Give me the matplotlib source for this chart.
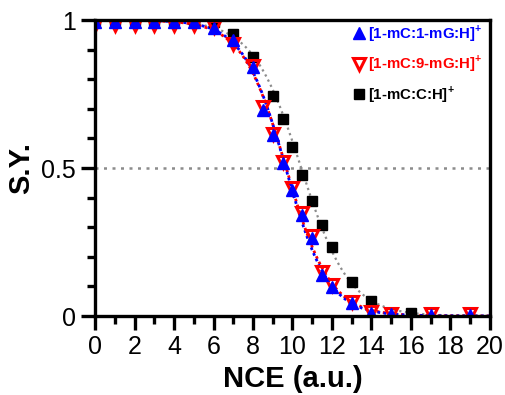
import numpy as np
import matplotlib.pyplot as plt
from matplotlib.ticker import MultipleLocator

plt.rcParams['font.family'] = ['Liberation Sans', 'DejaVu Sans']
plt.rcParams['mathtext.fontset'] = 'custom'
plt.rcParams['mathtext.bf'] = 'Liberation Sans:bold'
plt.rcParams['mathtext.rm'] = 'Liberation Sans'

######## data

nce_g = [0, 1, 2, 3, 4, 5, 6, 7, 8, 8.5, 9, 9.5, 10, 10.5, 11, 11.5, 12, 13, 14, 15, 17, 19]
sy_1mg = [0.995, 0.995, 0.995, 0.995, 0.995, 0.993, 0.972, 0.932, 0.842, 0.696, 0.611, 0.516,
          0.426, 0.341, 0.262, 0.139, 0.099, 0.043, 0.011, 0.006, 0.004, 0.004]
sy_9mg = [0.985, 0.985, 0.985, 0.985, 0.985, 0.985, 0.978, 0.921, 0.846, 0.705, 0.616, 0.522,
          0.432, 0.348, 0.272, 0.148, 0.106, 0.048, 0.014, 0.008, 0.006, 0.006]

nce_c = [0, 1, 2, 3, 4, 5, 6, 7, 8, 9, 9.5, 10, 10.5, 11, 11.5, 12, 13, 14, 16]
sy_c = [1.0, 1.0, 1.0, 1.0, 1.0, 1.0, 0.994, 0.953, 0.876, 0.743, 0.666, 0.572, 0.476,
        0.389, 0.307, 0.234, 0.116, 0.051, 0.009]

labels = [r"[1-mC:1-mG:H]$^{\mathbf{+}}$", r"[1-mC:9-mG:H]$^{\mathbf{+}}$", r"[1-mC:C:H]$^{\mathbf{+}}$"]

######## sigmoid fits (logit-linear least squares on the points)

def sigmoid_fit(x, y):
    x = np.asarray(x, float)
    y = np.asarray(y, float)
    m = (y > 0.03) & (y < 0.97)
    k, b = np.polyfit(x[m], np.log(1 / y[m] - 1), 1)
    xx = np.linspace(0, 20, 400)
    return xx, 1 / (1 + np.exp(k * xx + b))

fig = plt.figure(figsize=(5.06, 3.95), dpi=100)
ax = fig.add_axes([0.188, 0.2, 0.780, 0.749])

ax.axhline(0.5, color="#8c8c8c", linestyle=(0, (1.2, 2.2)), linewidth=1.8, zorder=1)

xx, yy = sigmoid_fit(nce_c, sy_c)
ax.plot(xx, yy, color="#8c8c8c", linestyle=(0, (1, 1.6)), linewidth=1.6, zorder=2)
xx, yy = sigmoid_fit(nce_g, sy_9mg)
ax.plot(xx, yy, color="#ff0000", linestyle=(0, (1, 1.2)), linewidth=2.0, zorder=2)
xx, yy = sigmoid_fit(nce_g, sy_1mg)
ax.plot(xx, yy, color="#0000ff", linestyle=(1.1, (1, 1.2)), linewidth=2.0, zorder=2)

h3, = ax.plot(nce_c, sy_c, "s", color="black", markersize=6.5, zorder=3)
h2, = ax.plot(nce_g, sy_9mg, "v", markerfacecolor="none", markeredgecolor="#ff0000",
              markeredgewidth=2.2, markersize=9, linestyle="none", zorder=4)
h1, = ax.plot(nce_g, sy_1mg, "^", color="#0000ff", markersize=9, zorder=5)

leg = ax.legend([h1, h2, h3], labels, loc="upper right", frameon=False,
                prop={"weight": "bold", "size": 10.8}, handletextpad=0.1,
                labelspacing=0.62, handlelength=1.0, borderaxespad=0.0,
                bbox_to_anchor=(0.997, 1.01))
for t, c in zip(leg.get_texts(), ["#0000ff", "#ff0000", "black"]):
    t.set_color(c)

ax.set_xlim(0, 20)
ax.set_ylim(0, 1)
ax.xaxis.set_major_locator(MultipleLocator(2))
ax.xaxis.set_minor_locator(MultipleLocator(1))
ax.set_yticks([0, 0.5, 1], ["0", "0.5", "1"])
ax.yaxis.set_minor_locator(MultipleLocator(0.1))

for s in ax.spines.values():
    s.set_linewidth(2.4)
    s.set_zorder(10)
ax.tick_params(which="major", length=10, width=2.4, labelsize=18, pad=4)
ax.tick_params(which="minor", length=5.5, width=2.4)

ax.set_xlabel("NCE (a.u.)", fontsize=21, fontweight="bold", labelpad=4)
ax.set_ylabel("S.Y.", fontsize=21, fontweight="bold", labelpad=4)

plt.savefig("out.png", dpi=100)
